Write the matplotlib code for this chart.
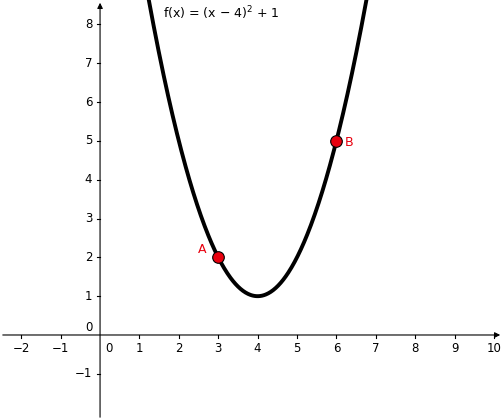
import numpy as np
import matplotlib
matplotlib.use("Agg")
import matplotlib.pyplot as plt

x_ticks = [-2, -1, 1, 2, 3, 4, 5, 6, 7, 8, 9, 10]
y_ticks = [-1, 1, 2, 3, 4, 5, 6, 7, 8]
point_names = ["A", "B"]
point_x = [3, 6]
point_y = [2, 5]

fig = plt.figure(figsize=(5.03, 4.20), dpi=100)
ax = fig.add_axes([0, 0, 1, 1])
ax.set_xlim(-2.54, 10.23)
ax.set_ylim(-2.19, 8.63)
ax.axis("off")

# axes through the origin with arrowheads
ax.annotate("", xy=(10.23, 0), xytext=(-2.54, 0),
            arrowprops=dict(arrowstyle="-|>", color="black", lw=0.8, mutation_scale=8))
ax.annotate("", xy=(0, 8.63), xytext=(0, -2.19),
            arrowprops=dict(arrowstyle="-|>", color="black", lw=0.8, mutation_scale=8))

for t in x_ticks:
    ax.plot([t, t], [0, -0.08], color="black", lw=0.8)
    ax.text(t, -0.18, f"{t}".replace("-", "\u2212"), ha="center", va="top", fontsize=8.5)
for t in y_ticks:
    ax.plot([0, -0.08], [t, t], color="black", lw=0.8)
    ax.text(-0.2, t, f"{t}".replace("-", "\u2212"), ha="right", va="center", fontsize=8.5)
ax.text(0.12, -0.18, "0", ha="left", va="top", fontsize=8.5)
ax.text(-0.2, 0.2, "0", ha="right", va="center", fontsize=8.5)

xs = np.linspace(-2.54, 10.23, 800)
ax.plot(xs, (xs - 4) ** 2 + 1, color="black", lw=2.8)

ax.scatter(point_x, point_y, s=70, color="#e8000e", edgecolor="black", linewidth=0.8, zorder=5)
ax.text(2.7, 2.2, point_names[0], color="#e8000e", ha="right", va="center", fontsize=9)
ax.text(6.2, 4.95, point_names[1], color="#e8000e", ha="left", va="center", fontsize=9)

ax.text(1.6, 8.3, "f(x) = (x \u2212 4)$^2$ + 1", ha="left", va="center", fontsize=9)

fig.savefig("out.png", dpi=100)
